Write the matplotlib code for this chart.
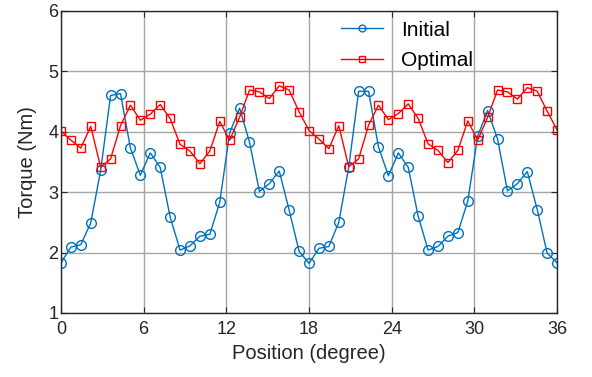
import numpy as np
import matplotlib
matplotlib.use('Agg')
import matplotlib.pyplot as plt

plt.rcParams['font.family'] = ['Liberation Sans', 'DejaVu Sans']

step = 0.72
position = np.arange(51) * step   # 0..36 deg

initial = [1.83, 2.09, 2.13, 2.49, 3.36, 4.60, 4.63, 3.73, 3.28, 3.65,
           3.41, 2.59, 2.04, 2.11, 2.27, 2.30, 2.83, 3.98, 4.39, 3.83,
           3.01, 3.14, 3.35, 2.70, 2.02, 1.82, 2.07, 2.10, 2.50, 3.41,
           4.67, 4.67, 3.75, 3.27, 3.65, 3.41, 2.60, 2.04, 2.10, 2.27,
           2.33, 2.85, 3.93, 4.35, 3.88, 3.02, 3.14, 3.34, 2.71, 1.99,
           1.83]
optimal = [4.01, 3.86, 3.73, 4.09, 3.41, 3.55, 4.10, 4.44, 4.19, 4.29,
           4.45, 4.22, 3.79, 3.68, 3.47, 3.68, 4.17, 3.86, 4.24, 4.69,
           4.66, 4.55, 4.76, 4.69, 4.33, 4.02, 3.88, 3.72, 4.10, 3.42,
           3.55, 4.11, 4.44, 4.20, 4.30, 4.46, 4.22, 3.80, 3.69, 3.49,
           3.69, 4.18, 3.86, 4.24, 4.69, 4.66, 4.54, 4.73, 4.67, 4.34,
           4.03]

xticks = [0, 6, 12, 18, 24, 30, 36]
yticks = [1, 2, 3, 4, 5, 6]

txt = '#262626'

fig = plt.figure(figsize=(5.92, 3.77), dpi=100)
ax = fig.add_axes([0.103, 0.170, 0.838, 0.801])

ax.plot(position, initial, '-o', color='#0072BD', lw=1, ms=7,
        mfc='none', mew=1, label='Initial')
ax.plot(position, optimal, '-s', color='#FF0000', lw=1, ms=5.5,
        mfc='none', mew=1, label='Optimal')

ax.set_xlim(0, 36)
ax.set_ylim(1, 6)
ax.set_xticks(xticks)
ax.set_yticks(yticks)
ax.grid(True, color='#a6a6a6', lw=1)
ax.set_axisbelow(True)
ax.tick_params(direction='in', top=True, right=True, labelsize=13,
               colors=txt, length=4)
ax.tick_params(axis='x', pad=6)
ax.tick_params(axis='y', pad=2)
for s in ax.spines.values():
    s.set_color(txt)
    s.set_linewidth(1)

ax.set_xlabel('Position (degree)', fontsize=14.5, color=txt, labelpad=4)
ax.set_ylabel('Torque (Nm)', fontsize=14.5, color=txt, labelpad=8)

ax.legend(loc='upper right', bbox_to_anchor=(0.868, 1.03), frameon=False,
          fontsize=15, handlelength=2.0, handletextpad=0.85,
          labelspacing=0.55, markerscale=0.7)

fig.savefig('out.png', dpi=100)
